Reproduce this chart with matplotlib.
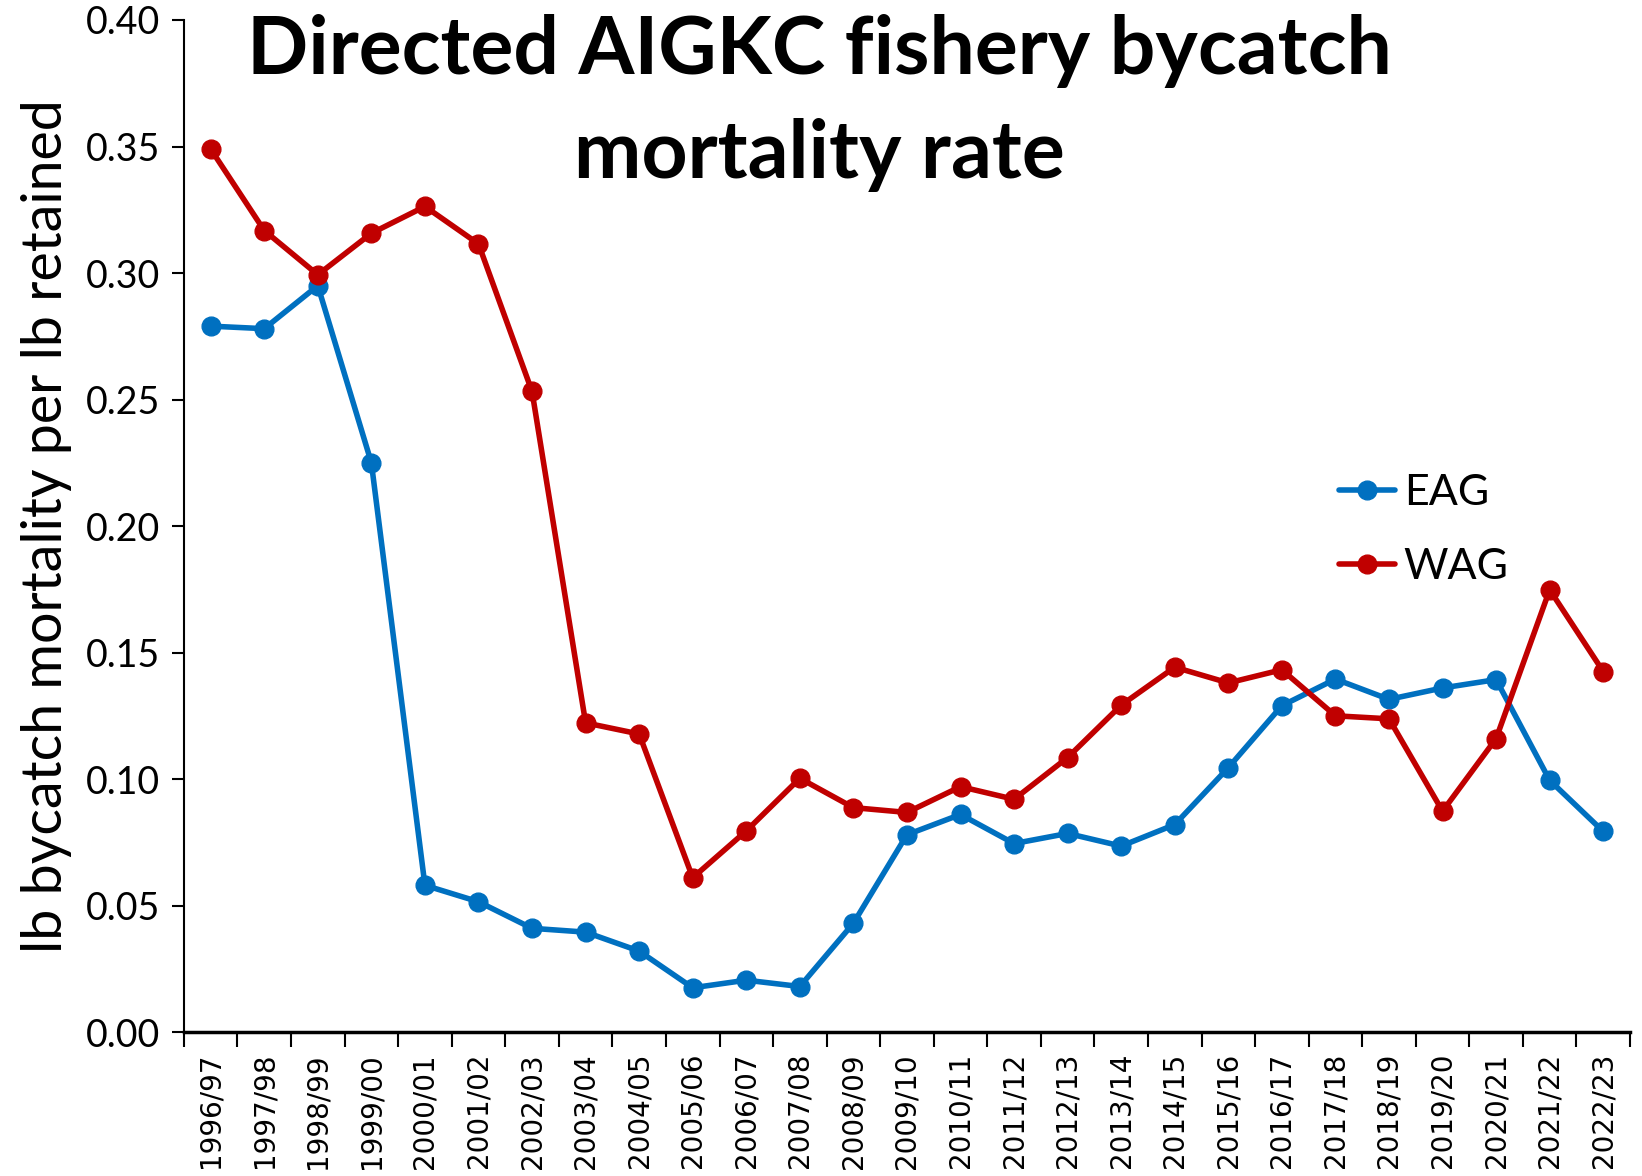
import numpy as np
import matplotlib
matplotlib.use("Agg")
import matplotlib.pyplot as plt
from matplotlib.ticker import FixedLocator, MultipleLocator, FormatStrFormatter

seasons = ["1996/97", "1997/98", "1998/99", "1999/00", "2000/01", "2001/02",
           "2002/03", "2003/04", "2004/05", "2005/06", "2006/07", "2007/08",
           "2008/09", "2009/10", "2010/11", "2011/12", "2012/13", "2013/14",
           "2014/15", "2015/16", "2016/17", "2017/18", "2018/19", "2019/20",
           "2020/21", "2021/22", "2022/23"]

eag = [0.279, 0.278, 0.295, 0.225, 0.058, 0.0515, 0.041, 0.0395, 0.032,
       0.0175, 0.0205, 0.018, 0.043, 0.078, 0.086, 0.0745, 0.0785, 0.0735,
       0.082, 0.1045, 0.129, 0.1395, 0.1315, 0.136, 0.1393, 0.0995, 0.0793]

wag = [0.349, 0.3168, 0.2993, 0.3157, 0.3263, 0.3115, 0.2532, 0.1222,
       0.1178, 0.061, 0.0795, 0.1003, 0.0887, 0.0868, 0.097, 0.092, 0.1085,
       0.1292, 0.1442, 0.138, 0.1432, 0.125, 0.1238, 0.0873, 0.116, 0.1748,
       0.1425]

BLUE = "#0070C0"
RED = "#C00000"
FONT = "Lato"

fig = plt.figure(figsize=(16.42, 11.76), dpi=100)
ax = fig.add_axes([0.112, 0.1224, 0.8807, 0.8606])

x = np.arange(len(seasons))
ax.plot(x, eag, color=BLUE, lw=4, marker="o", ms=13.5, label="EAG",
        solid_capstyle="round", zorder=3)
ax.plot(x, wag, color=RED, lw=4, marker="o", ms=13.5, label="WAG",
        solid_capstyle="round", zorder=3)

ax.set_xlim(-0.5, len(seasons) - 0.5)
ax.set_ylim(0, 0.40)

ax.yaxis.set_major_locator(MultipleLocator(0.05))
ax.yaxis.set_major_formatter(FormatStrFormatter("%.2f"))
ax.tick_params(axis="y", direction="out", length=9, width=1.5,
               labelsize=27, pad=8)
for lab in ax.get_yticklabels():
    lab.set_fontfamily(FONT)

# category labels at centres, tick marks at category boundaries
ax.set_xticks(x)
ax.set_xticklabels(seasons, rotation=90, fontsize=20, fontfamily="DejaVu Sans")
ax.tick_params(axis="x", which="major", length=0, pad=15)
ax.xaxis.set_minor_locator(FixedLocator(np.arange(-0.5, len(seasons), 1.0)))
ax.tick_params(axis="x", which="minor", direction="out", length=11, width=1.5)

for side in ("top", "right"):
    ax.spines[side].set_visible(False)
ax.spines["left"].set_linewidth(1.5)
ax.spines["bottom"].set_linewidth(2.5)

ax.set_ylabel("lb bycatch mortality per lb retained", fontsize=40,
              fontfamily=FONT, labelpad=10)

fig.text(0.499, 0.988, "Directed AIGKC fishery bycatch\nmortality rate",
         ha="center", va="top", fontsize=58, fontweight="bold",
         fontfamily=FONT, linespacing=1.5)

leg = ax.legend(loc="upper left", bbox_to_anchor=(0.772, 0.59), frameon=False,
                handlelength=1.3, handletextpad=0.2,
                labelspacing=0.85, prop={"family": FONT, "size": 31})

fig.savefig("out.png", dpi=100, facecolor="white")
